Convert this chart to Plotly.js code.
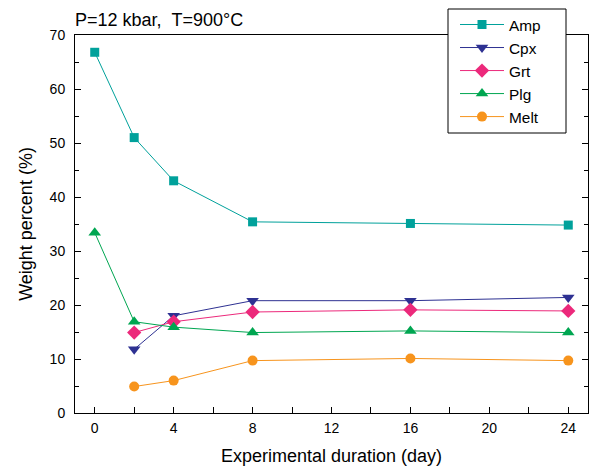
<!DOCTYPE html>
<html>
<head>
<meta charset="utf-8">
<script src="https://cdn.plot.ly/plotly-3.0.1.min.js"></script>
<style>html,body{margin:0;padding:0;background:#fff;}#chart{width:595px;height:468px;}</style>
</head>
<body>
<div id="chart"></div>
<script>
const daysAll = [0, 2, 4, 8, 16, 24];
const daysNoZero = [2, 4, 8, 16, 24];
const amp = [66.8, 51, 43, 35.4, 35.1, 34.8];
const cpx = [11.8, 18.0, 20.8, 20.8, 21.4];
const grt = [14.9, 16.9, 18.7, 19.1, 18.9];
const plg = [33.4, 16.9, 15.9, 14.9, 15.2, 14.9];
const melt = [4.9, 6.0, 9.7, 10.1, 9.7];
const xTicks = [0, 4, 8, 12, 16, 20, 24];
const yTicks = [0, 10, 20, 30, 40, 50, 60, 70];

const FONT = 'Liberation Sans, Arial, sans-serif';
const L = 75, R = 588, T = 35, B = 413;
const PW = R - L, PH = B - T;
function px(x) { return (x - L) / PW; }
function py(y) { return (B - y) / PH; }

function tr(name, x, y, color, symbol, size) {
  return {x: x, y: y, name: name, type: 'scatter', mode: 'lines+markers',
    line: {color: color, width: 1},
    marker: {color: color, symbol: symbol, size: size, line: {width: 0}}};
}
const data = [
  tr('Amp', daysAll, amp, '#00A19B', 'square', 9),
  tr('Cpx', daysNoZero, cpx, '#2E3192', 'triangle-down', 11),
  tr('Grt', daysNoZero, grt, '#EC297B', 'diamond', 11),
  tr('Plg', daysAll, plg, '#00A651', 'triangle-up', 11),
  tr('Melt', daysNoZero, melt, '#F7941D', 'circle', 10)
];
const layout = {
  width: 595, height: 468,
  margin: {l: L, r: 595 - R, t: T, b: 468 - B},
  paper_bgcolor: '#fff', plot_bgcolor: '#fff',
  font: {family: FONT, size: 14, color: '#000'},
  showlegend: true,
  title: {text: 'P=12 kbar,\u00a0\u00a0T=900°C', x: 75/595, xanchor: 'left', xref: 'container',
          y: 1 - 20/468, yref: 'container', yanchor: 'middle', font: {family: FONT, size: 18, color: '#000'}},
  xaxis: {range: [-1, 25], tickvals: xTicks, ticktext: xTicks.map(String),
    ticks: 'inside', ticklen: 6, tickwidth: 1, tickcolor: '#000',
    minor: {dtick: 2, tick0: 0, ticks: 'inside', ticklen: 6, tickwidth: 1, tickcolor: '#000'},
    showline: true, linecolor: '#000', linewidth: 1, mirror: true,
    showgrid: false, zeroline: false, ticklabelstandoff: 2,
    tickfont: {family: FONT, size: 14},
    title: {text: 'Experimental duration (day)', font: {family: FONT, size: 18}, standoff: 14}},
  yaxis: {range: [0, 70], tickvals: yTicks, ticktext: yTicks.map(String),
    ticks: 'inside', ticklen: 6, tickwidth: 1, tickcolor: '#000',
    minor: {dtick: 5, tick0: 0, ticks: 'inside', ticklen: 4, tickwidth: 1, tickcolor: '#000'},
    showline: true, linecolor: '#000', linewidth: 1, mirror: 'ticks',
    showgrid: false, zeroline: false, ticklabelstandoff: 6,
    tickfont: {family: FONT, size: 14},
    title: {text: 'Weight percent (%)', font: {family: FONT, size: 18}, standoff: 12}},
  shapes: [{type: 'rect', xref: 'paper', yref: 'paper', layer: 'above',
    x0: px(448), x1: px(566), y0: py(133), y1: py(9),
    line: {color: '#000', width: 1}, fillcolor: '#fff'}],
  legend: {x: px(455), xanchor: 'left', y: py(8), yanchor: 'top',
    bgcolor: 'rgba(0,0,0,0)', borderwidth: 0,
    font: {family: FONT, size: 15.4}, tracegroupgap: 0, itemwidth: 44}
};
Plotly.newPlot('chart', data, layout, {displayModeBar: false, staticPlot: true});
</script>
</body>
</html>
